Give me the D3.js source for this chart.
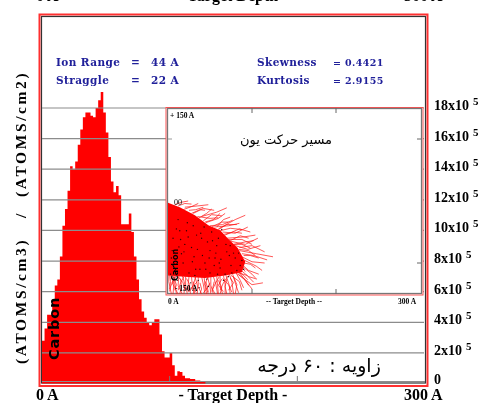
<!DOCTYPE html>
<html>
<head>
<title>Carbon ion range</title>
<style>
body { margin: 0; background: white; }
svg { filter: blur(0.3px); }
text { font-family: "Liberation Serif", serif; }
</style>
<script src="https://d3js.org/d3.v7.min.js"></script>
</head>
<body>
<svg id="chart" width="480" height="403"></svg>
<script>
// histogram, one value per 2 A bin, in units of 10^5
const histValues = [2.8, 3.6, 4.5, 4.5, 5.5, 6.4, 6.8, 8.3, 10.3, 11.4, 12.6, 14.2, 14.0, 14.5, 15.6, 16.6,
    17.4, 17.7, 17.7, 17.5, 17.4, 18.0, 18.5, 19.05, 17.7, 16.4, 14.8, 13.2, 12.5, 12.9, 12.3, 10.4,
    10.4, 10.4, 11.1, 9.9, 8.3, 6.8, 5.5, 4.7, 4.3, 4.0, 3.8, 4.0, 4.2, 4.2, 3.2, 2.1,
    1.7, 1.7, 2.0, 1.2, 0.5, 0.8, 0.75, 0.5, 0.35, 0.35, 0.3, 0.3, 0.2, 0.2, 0.15, 0.15];
const binWidth = 2;
const yTicks = [0, 2, 4, 6, 8, 10, 12, 14, 16, 18];

// solid part of the track cloud in the inset: depth, lateral (A)
const coreDepth = [0, 14, 32, 48, 62, 71, 83, 92, 88, 68, 44, 20, 0];
const coreLateral = [-3, -10, -23, -39, -47, -60, -76, -98, -115, -120, -124, -122, -120];

// single ion tracks: d0, l0, d1, l1, d2, l2
const tracks = [
    [20, -10, 35, -8, 48, -6], [40, -25, 58, -18, 70, -11], [35, -25, 50, -28, 60, -27], [60, -45, 80, -30, 92, -23],
    [50, -40, 65, -38, 77, -31], [65, -50, 80, -52, 95, -42], [70, -60, 90, -58, 104, -55], [75, -65, 92, -70, 107, -60],
    [85, -75, 100, -72, 115, -82], [85, -80, 105, -85, 125, -90], [88, -90, 100, -98, 115, -100], [90, -100, 98, -102, 104, -108],
    [85, -108, 90, -110, 92, -114], [80, -115, 100, -135, 113, -132], [80, -110, 90, -120, 95, -127], [75, -120, 85, -130, 88, -144],
    [65, -125, 72, -135, 76, -147], [45, -130, 47, -140, 48, -147], [22, -125, 26, -135, 24, -147], [6, -120, 10, -135, 8, -144],
    [30, -20, 42, -12, 55, -15], [45, -35, 60, -28, 68, -20], [55, -42, 72, -40, 85, -36], [68, -55, 85, -45, 98, -50],
    [72, -62, 88, -62, 100, -70], [80, -72, 95, -78, 110, -72], [88, -85, 102, -88, 118, -95], [90, -95, 105, -105, 112, -112],
    [88, -105, 100, -118, 104, -124], [84, -118, 92, -128, 100, -142], [78, -122, 82, -135, 80, -150], [70, -126, 68, -138, 70, -150],
    [60, -128, 64, -140, 62, -150], [55, -130, 53, -142, 56, -150], [38, -132, 40, -142, 38, -150], [30, -130, 32, -140, 30, -150],
    [15, -125, 16, -138, 14, -150], [2, -118, 3, -130, 2, -146], [12, -122, 18, -132, 20, -143], [50, -132, 46, -142, 42, -148],
    [64, -126, 60, -136, 66, -146], [35, -130, 28, -140, 34, -148], [10, -120, 5, -132, 12, -150], [74, -124, 78, -132, 72, -144],
    [82, -115, 94, -120, 102, -131], [86, -100, 96, -112, 108, -118], [78, -70, 92, -66, 102, -64], [62, -48, 74, -44, 88, -46],
    [42, -32, 52, -22, 64, -24], [25, -15, 33, -14, 42, -10], [12, -8, 20, -4, 28, -5], [58, -42, 66, -30, 74, -26],
    // strands under the solid part
    [1, -118, 1, -130, 4, -150], [4, -118, 7, -134, 6, -150], [8, -120, 8, -132, 10, -150], [13, -120, 12, -136, 17, -150],
    [17, -120, 20, -134, 19, -150], [21, -120, 21, -136, 23, -150], [25, -122, 24, -134, 27, -150], [28, -122, 29, -138, 32, -150],
    [32, -122, 35, -136, 35, -150], [36, -122, 36, -138, 40, -150], [40, -122, 42, -134, 44, -150], [43, -122, 44, -136, 46, -150],
    [47, -122, 50, -138, 51, -150], [51, -122, 51, -136, 54, -150], [54, -122, 57, -134, 59, -150], [58, -122, 59, -136, 60, -150],
    [62, -120, 62, -136, 65, -150], [66, -120, 68, -134, 68, -150], [69, -120, 73, -136, 74, -150], [73, -118, 76, -130, 78, -150],
    [77, -118, 80, -132, 84, -148], [81, -116, 86, -128, 90, -140], [84, -114, 90, -124, 96, -136], [87, -112, 96, -122, 106, -126],
    [3, -120, 6, -128, 2, -142], [19, -122, 15, -132, 12, -144], [33, -122, 30, -136, 26, -146], [48, -122, 44, -134, 48, -150],
    [61, -122, 56, -134, 52, -146], [72, -120, 66, -132, 62, -144],
    // short fringe on the upper edge
    [8, -6, 16, -2, 24, 0], [18, -14, 28, -9, 36, -4], [28, -20, 38, -14, 44, -15], [36, -28, 46, -20, 52, -13],
    [44, -34, 54, -30, 62, -20], [52, -42, 64, -34, 72, -34], [60, -46, 70, -38, 82, -38], [66, -54, 78, -50, 88, -52],
    [74, -64, 86, -56, 96, -60], [78, -70, 88, -70, 98, -76], [84, -78, 96, -80, 104, -88], [90, -88, 98, -88, 108, -92]
];

// ion stopping points (black specks) in the inset: depth, lateral
const stopDepth = [5, 4, 6, 8, 3, 7, 15, 22, 28, 34, 41, 47, 52, 58, 63, 70, 75, 80, 12, 18, 25, 31, 38, 44, 50, 56, 62, 68, 74, 82,
    10, 20, 30, 40, 50, 60, 72, 86, 16, 27, 36, 46, 55, 66, 78, 24, 33, 43, 53, 64,
    6, 14, 23, 35, 45, 57, 69, 84, 90, 9, 19, 29, 39, 49, 59, 76, 88, 11, 26, 37, 48, 61, 73, 13, 32];
const stopLateral = [-80, -92, -104, -112, -118, -124, -62, -48, -75, -55, -88, -66, -50, -72, -94, -82, -104, -92, -30, -100, -116, -90, -110, -100, -116, -92, -108, -118, -72, -112,
    -45, -70, -40, -60, -80, -60, -122, -104, -85, -132, -128, -126, -104, -128, -84, -58, -110, -42, -64, -46,
    -60, -48, -35, -78, -110, -84, -70, -84, -110, -110, -82, -98, -52, -92, -118, -116, -96, -128, -142, -140, -138, -100, -88, -74, -120];

const svg = d3.select("#chart");

const x = d3.scaleLinear().domain([0, 300]).range([42, 425]);
const y = d3.scaleLinear().domain([0, 18]).range([383.5, 108]);
const ix = d3.scaleLinear().domain([0, 300]).range([168, 420]);
const iy = d3.scaleLinear().domain([150, -150]).range([108, 294]);

// frames
svg.append("rect").attr("x", 39.5).attr("y", 14.5).attr("width", 388).attr("height", 371.5)
    .style("fill", "white").style("stroke", "#ff3030").style("stroke-width", 2);
svg.append("rect").attr("x", 41.5).attr("y", 16.5).attr("width", 384).attr("height", 366.5)
    .style("fill", "none").style("stroke", "#333").style("stroke-width", 1.2);

// histogram as one stepped shape
const histArea = d3.area()
    .x((d, i) => x(i * binWidth))
    .y0(y(0))
    .y1(d => y(d))
    .curve(d3.curveStepAfter);
svg.append("path")
    .datum(histValues.concat([0]))
    .attr("d", histArea)
    .style("fill", "#ff0000");

// right axis: grid lines and labels
const yAxis = d3.axisRight(y)
    .tickValues(yTicks)
    .tickSize(0)
    .tickPadding(0)
    .tickFormat(d => d === 0 ? "0" : d + "x10");
const yg = svg.append("g").attr("transform", "translate(434,0)").call(yAxis);
yg.select(".domain").remove();
yg.selectAll("text")
    .attr("dy", d => d === 0 ? "-0.5" : "1.5")
    .style("font-size", "14px")
    .style("font-weight", "bold")
    .style("font-family", "Liberation Serif")
    .filter(d => d !== 0)
    .append("tspan")
    .attr("dx", 4)
    .attr("dy", -5)
    .style("font-size", "11px")
    .text("5");

svg.append("g").selectAll("line")
    .data(yTicks.filter(d => d > 0))
    .join("line")
    .attr("x1", x(0))
    .attr("x2", x(300) - 1)
    .attr("y1", d => y(d))
    .attr("y2", d => y(d))
    .style("stroke", "#8c8c8c")
    .style("stroke-width", 1.2);

// baseline and small ticks of the main plot
svg.append("line").attr("x1", x(0)).attr("x2", x(300)).attr("y1", 381.5).attr("y2", 381.5)
    .style("stroke", "#8c8c8c").style("stroke-width", 1);
svg.append("g").selectAll("line")
    .data([100, 200])
    .join("line")
    .attr("x1", d => x(d))
    .attr("x2", d => x(d))
    .attr("y1", 376)
    .attr("y2", 381)
    .style("stroke", "#777");

// inset
const inset = svg.append("g");
svg.append("clipPath").attr("id", "insetClip").append("rect")
    .attr("x", ix(0)).attr("y", iy(150)).attr("width", ix(300) - ix(0)).attr("height", iy(-150) - iy(150));
inset.append("rect").attr("x", 166).attr("y", 107.5).attr("width", 257).attr("height", 187.5)
    .style("fill", "white").style("stroke", "#ff5050").style("stroke-width", 1);
inset.append("rect").attr("x", 167.5).attr("y", 108.5).attr("width", 254).attr("height", 185)
    .style("fill", "none").style("stroke", "#777").style("stroke-width", 1.3);

const cloud = inset.append("g").attr("clip-path", "url(#insetClip)");
const trackLine = d3.line().x(p => ix(p[0])).y(p => iy(p[1])).curve(d3.curveLinear);
cloud.append("path")
    .datum(coreDepth.map((d, i) => [d, coreLateral[i]]))
    .attr("d", d => trackLine(d) + "Z")
    .style("fill", "#ff0000");
cloud.selectAll(".track")
    .data(tracks)
    .join("path")
    .attr("class", "track")
    .attr("d", t => trackLine([[t[0], t[1]], [t[2], t[3]], [t[4], t[5]]]))
    .style("fill", "none")
    .style("stroke", "#ff1010")
    .style("stroke-width", 0.7);
cloud.selectAll(".stop")
    .data(stopDepth.map((d, i) => [d, stopLateral[i]]))
    .join("circle")
    .attr("class", "stop")
    .attr("cx", d => ix(d[0]))
    .attr("cy", d => iy(d[1]))
    .attr("r", 0.7)
    .style("fill", "#300000");

inset.append("g").selectAll("line")
    .data([100, 200])
    .join("line")
    .attr("x1", d => ix(d)).attr("x2", d => ix(d))
    .attr("y1", 108).attr("y2", 113)
    .style("stroke", "#666");
inset.append("g").selectAll("line")
    .data([100, 200])
    .join("line")
    .attr("x1", d => ix(d)).attr("x2", d => ix(d))
    .attr("y1", 289).attr("y2", 294)
    .style("stroke", "#666");
inset.append("g").selectAll("line")
    .data([100, -100])
    .join("line")
    .attr("x1", 417).attr("x2", 421)
    .attr("y1", d => iy(d)).attr("y2", d => iy(d))
    .style("stroke", "#666");
inset.append("line").attr("x1", 168).attr("x2", 172).attr("y1", iy(100)).attr("y2", iy(100)).style("stroke", "#999");

function addText(px, py, str, size, opts) {
    const o = opts || {};
    return svg.append("text")
        .attr("x", px)
        .attr("y", py)
        .attr("text-anchor", o.anchor || "start")
        .attr("transform", o.rotate ? `rotate(${o.rotate},${px},${py})` : null)
        .style("font-size", size + "px")
        .style("font-weight", o.weight || "bold")
        .style("font-family", o.family || "Liberation Serif")
        .style("letter-spacing", o.spacing || "0")
        .style("fill", o.fill || "black")
        .text(str);
}

// inset labels
addText(170, 118, "+ 150 A", 7.5);
addText(174, 205, "00", 8, {weight: "normal"});
addText(175, 291, "- 150 A", 7.5);
addText(168, 304, "0 A", 7.5);
addText(294, 304, "-- Target Depth --", 7.5, {anchor: "middle"});
addText(398, 304, "300 A", 7.5);
addText(178, 281, "Carbon", 8, {rotate: -90, family: "DejaVu Sans"});
addText(286, 144, "مسیر حرکت یون", 13, {anchor: "middle", weight: "normal", family: "DejaVu Sans"});

// statistics block
const blue = "#20209a";
const stats = {family: "DejaVu Serif", fill: blue, spacing: "0.4px"};
addText(56, 66, "Ion Range", 10.5, stats);
addText(131, 66, "=", 10.5, stats);
addText(151, 66, "44 A", 10.5, stats);
addText(56, 84, "Straggle", 10.5, stats);
addText(131, 84, "=", 10.5, stats);
addText(151, 84, "22 A", 10.5, stats);
addText(257, 66, "Skewness", 10.5, stats);
addText(333, 66, "= 0.4421", 9.5, stats);
addText(257, 84, "Kurtosis", 10.5, stats);
addText(333, 84, "= 2.9155", 9.5, stats);

// bottom axis labels, and the same row clipped by the top of the page
[400, 0.5].forEach(py => {
    addText(36, py, "0 A", 16);
    addText(233, py, "- Target Depth -", 16, {anchor: "middle"});
    addText(404, py, "300 A", 16);
});

const yTitle = {rotate: -90, spacing: "2.6px"};
addText(26, 364, "(ATOMS/cm3)", 15.5, yTitle);
addText(26, 218, "/", 15.5, yTitle);
addText(26, 197, "(ATOMS/cm2)", 15.5, yTitle);
addText(59, 360, "Carbon", 14.5, {rotate: -90, family: "DejaVu Sans", spacing: "0.8px"});
addText(319, 372, "زاویه : ۶۰ درجه", 19, {anchor: "middle", weight: "normal", family: "DejaVu Sans"});
</script>
</body>
</html>
